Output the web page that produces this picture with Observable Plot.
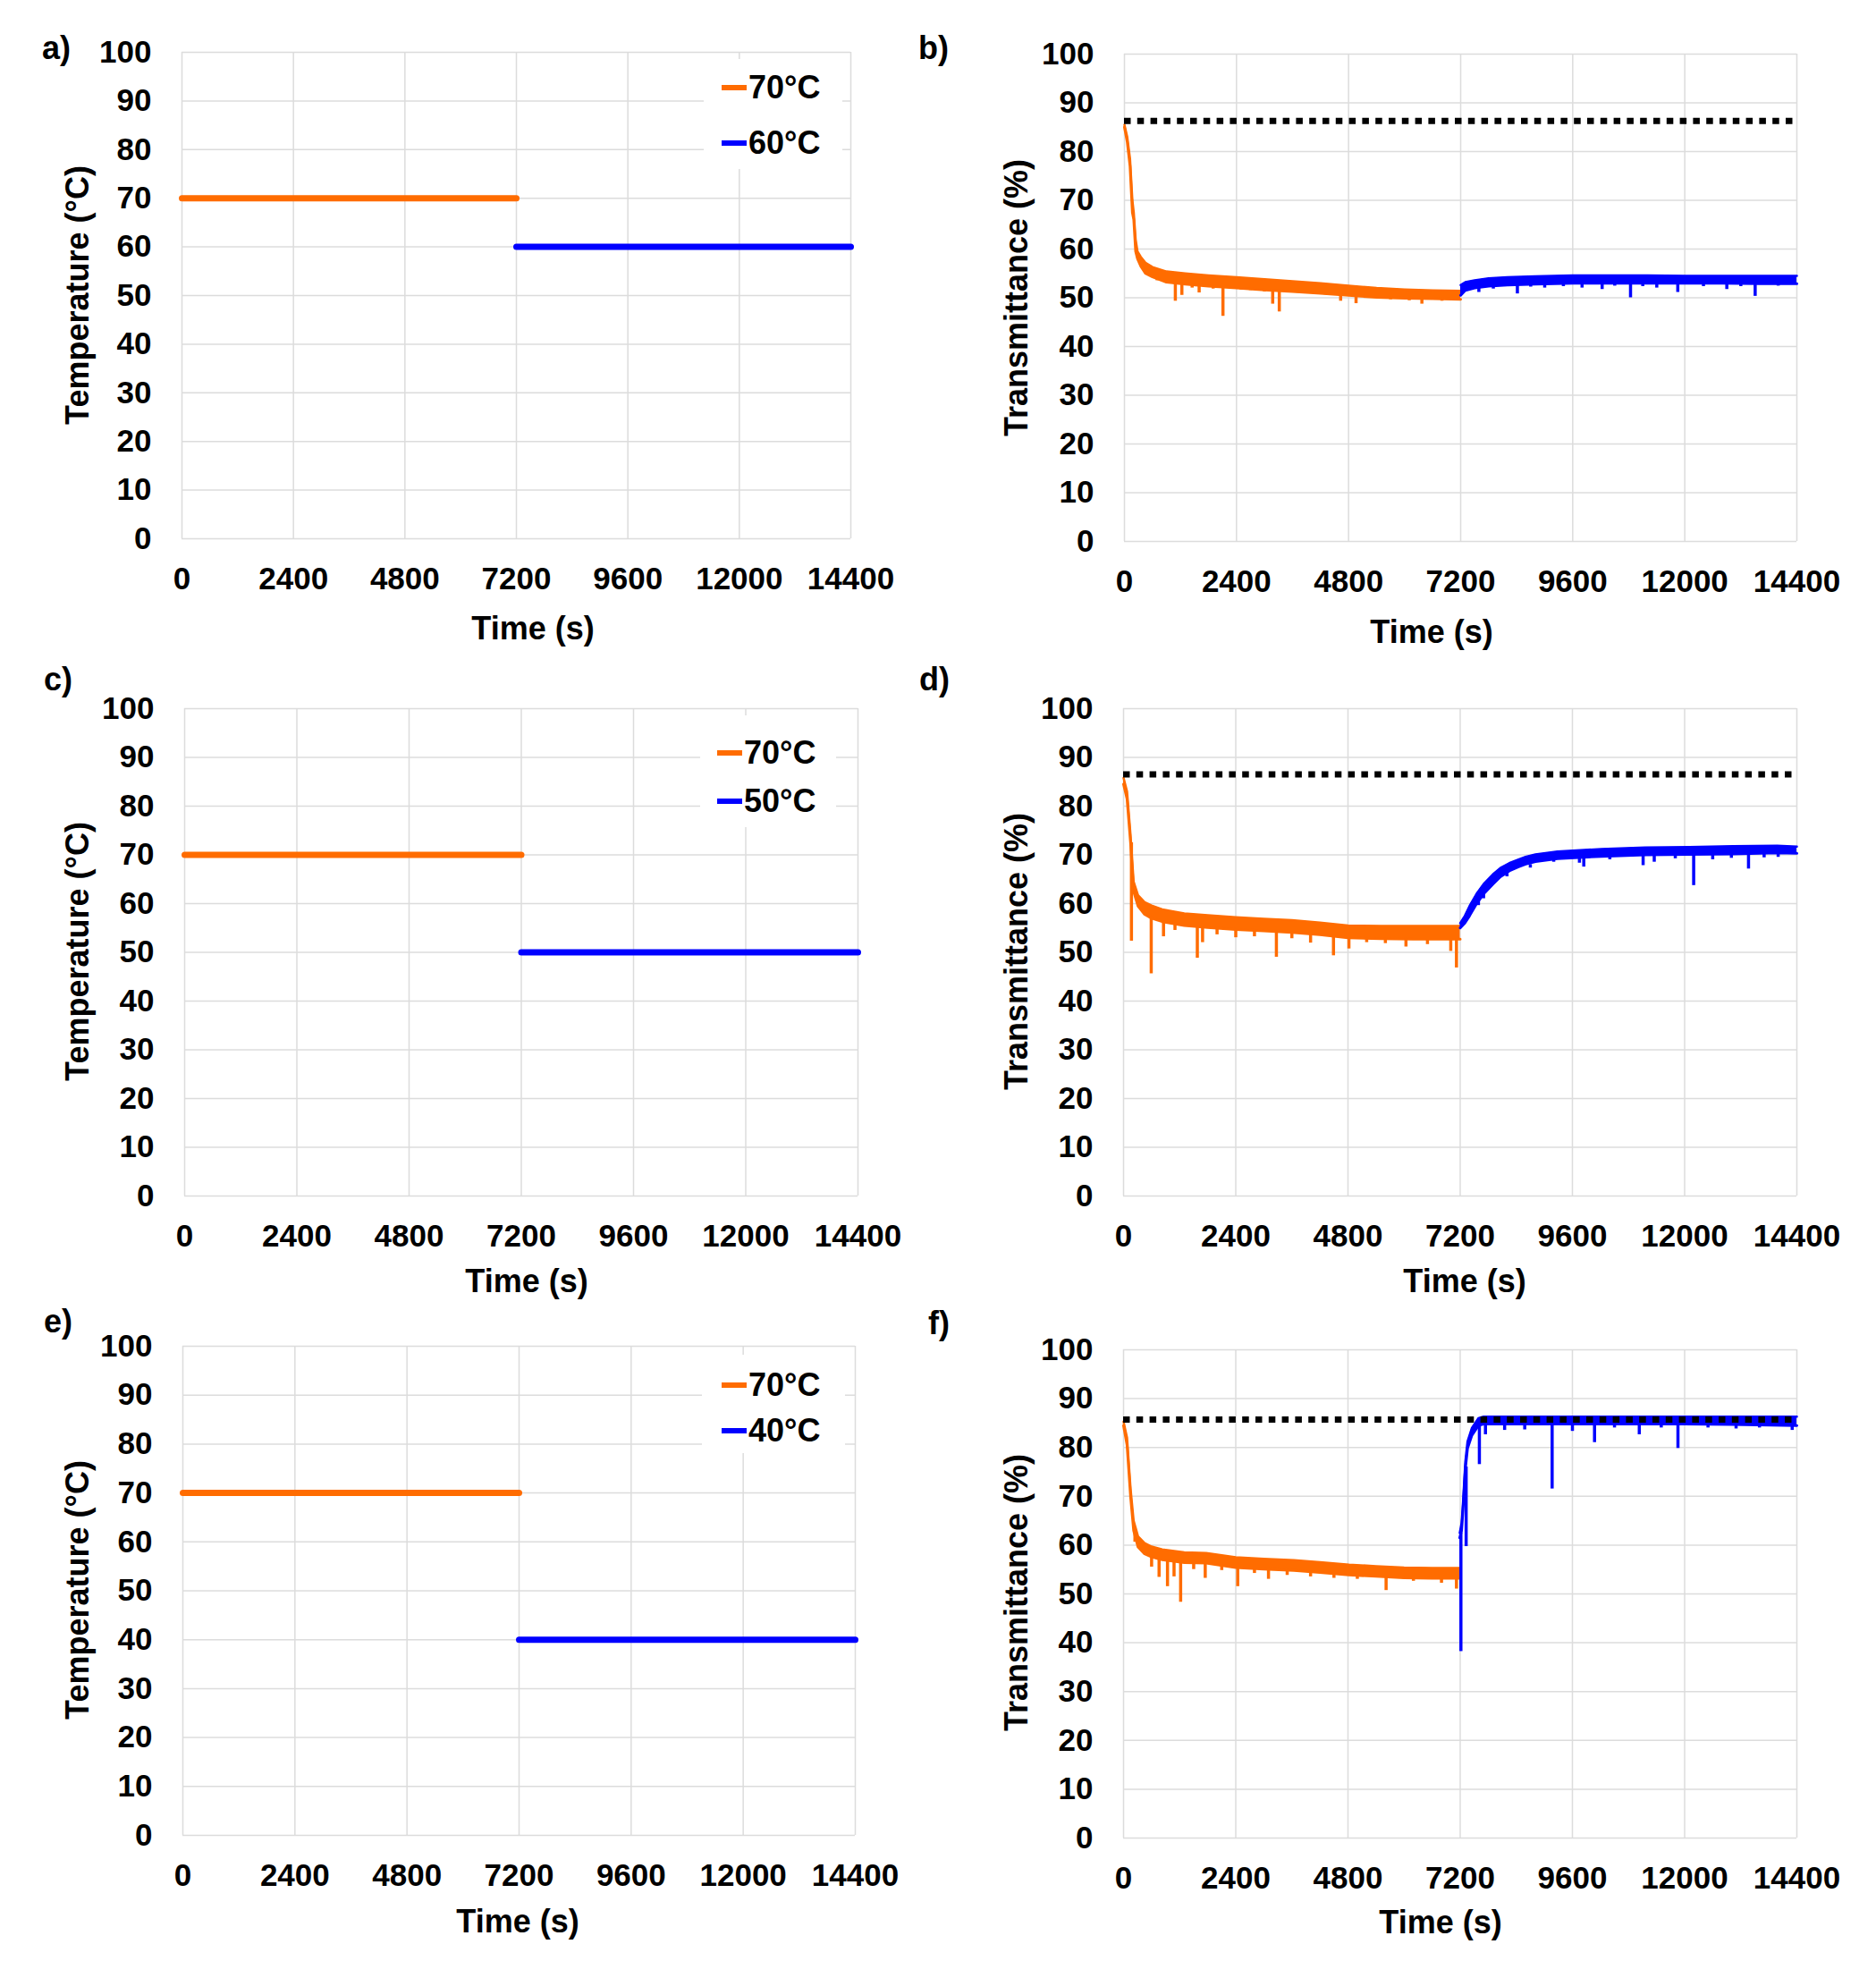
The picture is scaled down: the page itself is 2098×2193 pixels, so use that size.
<!DOCTYPE html>
<html>
<head>
<meta charset="utf-8">
<script src="https://cdn.jsdelivr.net/npm/d3@7"></script>
<script src="https://cdn.jsdelivr.net/npm/@observablehq/plot@0.6"></script>
<style>
html, body { margin: 0; padding: 0; background: #fff; }
#fig { position: relative; width: 2098px; height: 2193px; background: #fff; overflow: hidden;
  font-family: Arial, "Liberation Sans", sans-serif; font-weight: bold; color: #000; }
#fig svg { position: absolute; }
.t { position: absolute; white-space: nowrap; line-height: 1; }
</style>
</head>
<body>
<div id="fig"></div>
<script>
// ---------- axis ticks ----------
const xTicks = [0, 2400, 4800, 7200, 9600, 12000, 14400];
const yTicks = [0, 10, 20, 30, 40, 50, 60, 70, 80, 90, 100];

// ---------- temperature programs (a, c, e) ----------
const tempTimeHigh = [0, 7200];
const tempHigh = [70, 70];
const tempTimeLow = [7200, 14400];
const tempLowA = [60, 60];
const tempLowC = [50, 50];
const tempLowE = [40, 40];
const legendA = ["70°C", "60°C"];
const legendC = ["70°C", "50°C"];
const legendE = ["70°C", "40°C"];

// ---------- transmittance (b): 70°C then 60°C ----------
const bRef = 86.3;
const bOrT  = [0, 60, 120, 170, 200, 240, 280, 350, 450, 600, 900, 1300, 1800, 2400, 3000, 3600, 4200, 4800, 5400, 6000, 6600, 7200];
const bOrHi = [85.5, 83, 78.5, 70, 67.5, 62, 59.5, 58.4, 57.2, 56.3, 55.4, 55, 54.6, 54.2, 53.8, 53.4, 53, 52.5, 52, 51.7, 51.5, 51.4];
const bOrLo = [85, 82, 77, 67.5, 66, 59.5, 58, 56.5, 55, 54.3, 53.2, 52.8, 52.4, 52, 51.6, 51.3, 50.9, 50.5, 50.1, 49.9, 49.8, 49.7];
const bOrSpT  = [700, 1090, 1230, 1450, 1600, 1900, 2110, 2500, 2700, 3000, 3175, 3316, 3700, 4000, 4300, 4630, 4960, 5340, 5700, 6100, 6370, 6800];
const bOrSpLo = [53.5, 49.3, 50.5, 52, 51, 51.8, 46.2, 51.6, 51.5, 51.2, 48.7, 47.1, 51, 51, 50.6, 49.3, 48.8, 49.9, 49.6, 49.4, 48.7, 49.3];
const bOrSpHi = [54.6, 53, 52.8, 52.6, 52.5, 52.3, 52.2, 52, 51.9, 51.6, 51.5, 51.4, 51.3, 51.2, 51, 50.6, 50.4, 50.1, 50, 49.9, 49.8, 49.8];
const bBlT  = [7200, 7300, 7500, 7800, 8200, 8800, 9600, 10400, 11200, 12000, 12800, 13600, 14400];
const bBlHi = [52.6, 53.2, 53.6, 54, 54.2, 54.4, 54.6, 54.6, 54.6, 54.5, 54.5, 54.5, 54.5];
const bBlLo = [50.5, 51.5, 52, 52.4, 52.6, 52.8, 53, 53, 53, 53, 53, 52.9, 52.9];
const bBlSpT  = [7590, 7900, 8415, 8700, 9000, 9400, 9800, 10230, 10500, 10838, 11100, 11400, 11850, 12400, 12900, 13200, 13507, 14000];
const bBlSpLo = [51.1, 51.8, 50.8, 52.2, 52, 52.3, 52, 51.7, 52.4, 50, 52.3, 52, 51.1, 52.3, 51.7, 52.3, 50.3, 52.4];
const bBlSpHi = [52.2, 52.5, 52.8, 52.8, 52.9, 53, 53, 53, 53, 53, 53, 53, 53, 53, 53, 53, 52.9, 52.9];

// ---------- transmittance (d): 70°C then 50°C ----------
const dRef = 86.5;
const dOrT  = [0, 75, 150, 216, 310, 450, 600, 827, 1300, 1800, 2400, 3000, 3600, 4200, 4800, 5500, 6200, 7200];
const dOrHi = [85.8, 83, 74, 64.5, 61.7, 60.3, 59.6, 58.8, 58, 57.6, 57.2, 56.9, 56.6, 56.1, 55.5, 55.4, 55.4, 55.4];
const dOrLo = [84.5, 81.5, 72.5, 62.5, 59.5, 57.8, 57, 56.3, 55.5, 55.1, 54.7, 54.4, 54.1, 53.6, 53, 52.8, 52.7, 52.7];
const dOrSpT  = [169, 592, 855, 1100, 1578, 1690, 2000, 2400, 2800, 3269, 3600, 4000, 4490, 4820, 5200, 5600, 6040, 6500, 6998, 7120];
const dOrSpLo = [52.3, 45.6, 53.2, 54.5, 48.8, 52, 53.6, 53, 53.2, 49, 52.8, 51.9, 49.3, 50.7, 52, 51.8, 51.1, 51.6, 50.2, 46.8];
const dOrSpHi = [72.5, 57.3, 56.3, 56, 55.3, 55.2, 55, 54.7, 54.5, 54.2, 54.1, 53.9, 53.4, 53, 52.9, 52.8, 52.8, 52.7, 52.7, 52.7];
const dBlT  = [7200, 7300, 7400, 7550, 7700, 7900, 8060, 8250, 8435, 8600, 8810, 9280, 10220, 11160, 12100, 13040, 13980, 14400];
const dBlHi = [56, 57.5, 59.5, 62, 64, 66, 67.3, 68.3, 69, 69.6, 70.1, 70.7, 71.2, 71.5, 71.6, 71.8, 71.9, 71.7];
const dBlLo = [55, 56, 57.5, 60, 62, 64, 65.5, 66.7, 67.5, 68.1, 68.6, 69.2, 69.7, 70, 70.1, 70.2, 70.4, 70.3];
const dBlSpT  = [7590, 7700, 8200, 8700, 9200, 9750, 9843, 10400, 11112, 11350, 11800, 12193, 12600, 13000, 13366, 13700, 14000];
const dBlSpLo = [59.6, 61, 65.5, 67.3, 68.5, 68.3, 67.5, 69, 67.8, 68.5, 69.2, 63.7, 69, 69.3, 67.1, 69.4, 69.5];
const dBlSpHi = [61, 62, 66.5, 68, 69.2, 69.6, 69.6, 69.8, 70, 70, 70.1, 70.1, 70.1, 70.2, 70.2, 70.3, 70.4];

// ---------- transmittance (f): 70°C then 40°C ----------
const fRef = 85.7;
const fOrT  = [0, 75, 150, 216, 310, 450, 600, 827, 1300, 1766, 2400, 3000, 3645, 4200, 4820, 5400, 6000, 6600, 7200];
const fOrHi = [85.3, 82, 71.6, 65, 61.8, 60.4, 59.7, 59.1, 58.5, 58.4, 57.5, 57.2, 56.9, 56.5, 56, 55.7, 55.4, 55.3, 55.3];
const fOrLo = [84.5, 80.5, 70, 63, 59.6, 58.2, 57.6, 57, 56.4, 56.3, 55.4, 55.1, 54.8, 54.4, 53.9, 53.6, 53.3, 53.2, 53.2];
const fOrSpT  = [244, 600, 760, 940, 1080, 1221, 1500, 1747, 2100, 2442, 2800, 3100, 3500, 4000, 4500, 5000, 5615, 6200, 6800, 7120];
const fOrSpLo = [60.6, 55.5, 53.4, 51.5, 53.5, 48.3, 55, 53.2, 54.8, 51.5, 54.2, 53, 53.8, 53.5, 53.2, 53, 50.7, 52.6, 52.2, 51];
const fOrSpHi = [63, 57.6, 57.2, 56.8, 56.6, 56.4, 56.4, 56.3, 55.8, 55.4, 55.2, 55.1, 54.9, 54.7, 54.2, 53.8, 53.6, 53.3, 53.2, 53.2];
const fBlT  = [7190, 7230, 7262, 7309, 7356, 7450, 7590, 7700, 8000, 9000, 10000, 11000, 12000, 13000, 14400];
const fBlHi = [62.5, 64.5, 69, 77, 81.2, 84, 86, 86.3, 86.3, 86.3, 86.3, 86.3, 86.3, 86.3, 86.3];
const fBlLo = [61.5, 63, 67.5, 75.5, 79.8, 82.5, 84.5, 84.8, 84.8, 84.8, 84.8, 84.8, 84.8, 84.7, 84.5];
const fBlSpT  = [7215, 7327, 7610, 7740, 8150, 8580, 9166, 9600, 10073, 10500, 11030, 11500, 11857, 12500, 13100, 13600, 14300];
const fBlSpLo = [38.2, 59.7, 76.5, 82.6, 83.5, 83.6, 71.5, 83.3, 81, 84, 82.6, 84, 79.8, 84, 83.8, 84, 83.5];
const fBlSpHi = [62.5, 76, 84.5, 85, 85, 85, 85, 85, 85, 85, 85, 85, 85, 85, 85, 85, 84.6];

// ---------- helpers ----------
const ORANGE = "#ff6c00";
const BLUE = "#0000ff";
const GRID = "#dcdcdc";
const zip = (t, v) => t.map((d, i) => ({t: d, v: v[i]}));
const band = (t, hi, lo) => t.map((d, i) => ({t: d, hi: hi[i], lo: lo[i]}));
const fig = document.getElementById("fig");

function text(str, x, y, size, opts = {}) {
  const el = document.createElement("div");
  el.className = "t";
  el.textContent = str;
  el.style.left = x + "px";
  el.style.top = y + "px";
  el.style.fontSize = size + "px";
  const ax = opts.align === "left" ? "0" : "-50%";
  el.style.transform = `translate(${ax},-50%)` + (opts.rotate ? ` rotate(${opts.rotate}deg)` : "");
  fig.appendChild(el);
  return el;
}
function box(x, y, w, h, color) {
  const el = document.createElement("div");
  el.style.position = "absolute";
  el.style.left = x + "px"; el.style.top = y + "px";
  el.style.width = w + "px"; el.style.height = h + "px";
  el.style.background = color;
  fig.appendChild(el);
  return el;
}

function panel(g, marks) {
  const svg = Plot.plot({
    width: g.w, height: g.h,
    marginLeft: g.L - g.x0, marginRight: g.x0 + g.w - g.R,
    marginTop: g.T - g.y0, marginBottom: g.y0 + g.h - g.B,
    x: {domain: [0, 14400]},
    y: {domain: [0, 100]},
    style: {fontFamily: 'Arial, "Liberation Sans", sans-serif', fontSize: "35px", fontWeight: "bold", color: "#000", background: "transparent", overflow: "visible"},
    marks: [
      Plot.gridX(xTicks, {stroke: GRID, strokeOpacity: 1, strokeWidth: 1.5}),
      Plot.gridY(yTicks, {stroke: GRID, strokeOpacity: 1, strokeWidth: 1.5}),
      ...marks,
      Plot.axisX(xTicks, {tickSize: 0, tickPadding: 32, label: null, tickFormat: d => String(d)}),
      Plot.axisY(yTicks, {tickSize: 0, tickPadding: 34, label: null, tickFormat: d => String(d)})
    ]
  });
  svg.style.left = g.x0 + "px";
  svg.style.top = g.y0 + "px";
  fig.appendChild(svg);
  return svg;
}

function tempMarks(lowVals) {
  return [
    Plot.line(zip(tempTimeHigh, tempHigh), {x: "t", y: "v", stroke: ORANGE, strokeWidth: 7, strokeLinecap: "round"}),
    Plot.line(zip(tempTimeLow, lowVals), {x: "t", y: "v", stroke: BLUE, strokeWidth: 7, strokeLinecap: "round"})
  ];
}
function seriesMarks(t, hi, lo, spT, spLo, spHi, color) {
  const rows = band(t, hi, lo);
  const sp = spT.map((d, i) => ({t: d, lo: spLo[i], hi: spHi[i]}));
  return [
    Plot.areaY(rows, {x: "t", y1: "lo", y2: "hi", fill: color}),
    Plot.line(rows, {x: "t", y: "hi", stroke: color, strokeWidth: 2.5}),
    Plot.line(rows, {x: "t", y: "lo", stroke: color, strokeWidth: 3}),
    Plot.ruleX(sp, {x: "t", y1: "lo", y2: "hi", stroke: color, strokeWidth: 3.5})
  ];
}
function transMarks(ref, orange, blue) {
  return [
    ...seriesMarks(...orange, ORANGE),
    ...seriesMarks(...blue, BLUE),
    Plot.ruleY([ref], {stroke: "#000", strokeWidth: 7, strokeDasharray: "7.5,7.3"})
  ];
}

// ---------- layout (pixels) ----------
const G = {
  a: {x0: 0,    y0: 0,    w: 1049, h: 730, L: 203,  R: 951,  T: 58,   B: 602},
  b: {x0: 1049, y0: 0,    w: 1049, h: 730, L: 1257, R: 2009, T: 60,   B: 605},
  c: {x0: 0,    y0: 730,  w: 1049, h: 730, L: 206,  R: 959,  T: 792,  B: 1337},
  d: {x0: 1049, y0: 730,  w: 1049, h: 730, L: 1256, R: 2009, T: 792,  B: 1337},
  e: {x0: 0,    y0: 1460, w: 1049, h: 733, L: 204,  R: 956,  T: 1505, B: 2052},
  f: {x0: 1049, y0: 1460, w: 1049, h: 733, L: 1256, R: 2009, T: 1509, B: 2055}
};

panel(G.a, tempMarks(tempLowA));
panel(G.c, tempMarks(tempLowC));
panel(G.e, tempMarks(tempLowE));
panel(G.b, transMarks(bRef, [bOrT, bOrHi, bOrLo, bOrSpT, bOrSpLo, bOrSpHi], [bBlT, bBlHi, bBlLo, bBlSpT, bBlSpLo, bBlSpHi]));
panel(G.d, transMarks(dRef, [dOrT, dOrHi, dOrLo, dOrSpT, dOrSpLo, dOrSpHi], [dBlT, dBlHi, dBlLo, dBlSpT, dBlSpLo, dBlSpHi]));
panel(G.f, transMarks(fRef, [fOrT, fOrHi, fOrLo, fOrSpT, fOrSpLo, fOrSpHi], [fBlT, fBlHi, fBlLo, fBlSpT, fBlSpLo, fBlSpHi]));

// ---------- legends (temperature panels) ----------
function legend(labels, bx, by, bw, bh, lx, y1, y2) {
  box(bx, by, bw, bh, "#fff");
  box(lx, y1 - 3, 28, 6, ORANGE);
  box(lx, y2 - 3, 28, 6, BLUE);
  text(labels[0], lx + 30, y1, 36, {align: "left"});
  text(labels[1], lx + 30, y2, 36, {align: "left"});
}
legend(legendA, 787, 66, 155, 123, 807, 98, 160);
legend(legendC, 783, 800, 152, 125, 802, 842, 896);
legend(legendE, 785, 1515, 160, 110, 807, 1549, 1600);

// ---------- axis titles ----------
text("Time (s)", 596, 703, 36);
text("Time (s)", 1601, 707, 36);
text("Time (s)", 589, 1433, 36);
text("Time (s)", 1638, 1433, 36);
text("Time (s)", 579, 2149, 36);
text("Time (s)", 1611, 2150, 36);
text("Temperature (°C)", 87, 330, 36, {rotate: -90});
text("Temperature (°C)", 87, 1064, 36, {rotate: -90});
text("Temperature (°C)", 87, 1778, 36, {rotate: -90});
text("Transmittance (%)", 1137, 333, 36, {rotate: -90});
text("Transmittance (%)", 1137, 1064, 36, {rotate: -90});
text("Transmittance (%)", 1137, 1781, 36, {rotate: -90});

// ---------- panel letters ----------
text("a)", 63, 54, 36);
text("b)", 1044, 54, 36);
text("c)", 65, 760, 36);
text("d)", 1045, 760, 36);
text("e)", 65, 1478, 36);
text("f)", 1050, 1480, 36);
</script>
</body>
</html>
